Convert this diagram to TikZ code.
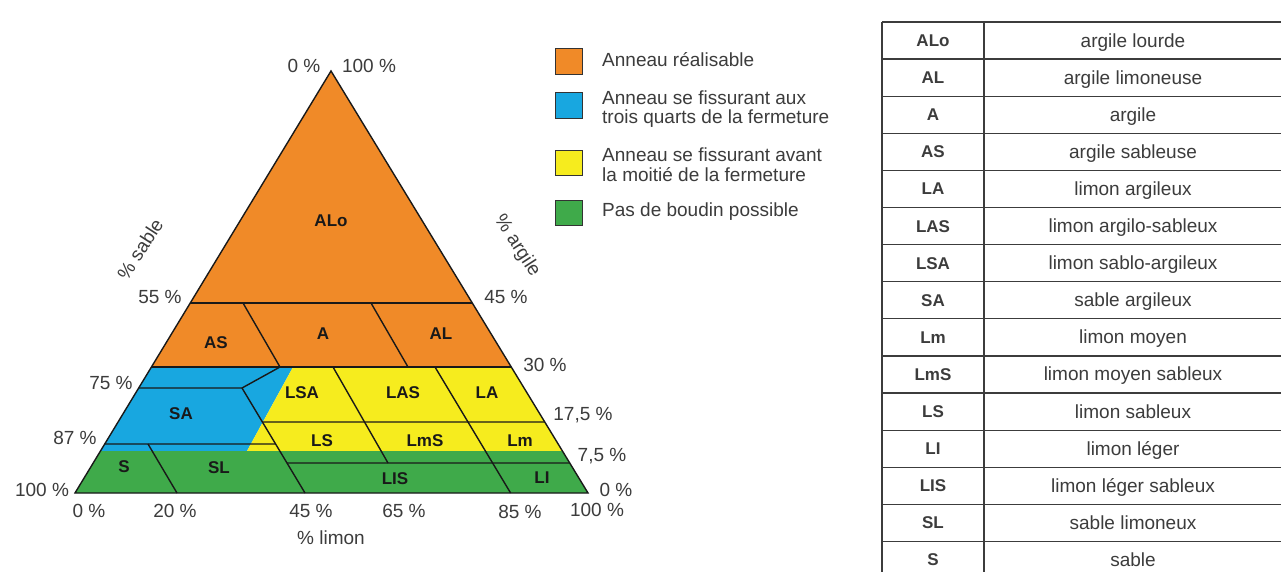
\documentclass[tikz,border=0pt]{standalone}
\usepackage{fontspec}
\setmainfont{Liberation Sans}
\usetikzlibrary{calc}
\definecolor{orng}{RGB}{240,138,40}
\definecolor{blu}{RGB}{24,167,224}
\definecolor{yel}{RGB}{246,236,30}
\definecolor{grn}{RGB}{63,170,74}
\definecolor{txtgray}{RGB}{60,60,60}
\definecolor{tabline}{RGB}{60,60,60}
\begin{document}
\begin{tikzpicture}[x=1pt,y=-1pt,
  axlbl/.style={font=\fontsize{19}{22}\selectfont, text=txtgray, inner sep=0pt},
  reglbl/.style={font=\fontsize{17}{20}\selectfont\bfseries, text=black!90, inner sep=0pt},
  bline/.style={line width=1.4pt, black!90},
  legbox/.style={draw=black!80, line width=0.9pt},
  legtxt/.style={font=\fontsize{19}{19.5}\selectfont, text=txtgray, inner sep=0pt, anchor=west, align=left},
  tline/.style={line width=1.2pt, tabline},
  tabcode/.style={font=\fontsize{17}{20}\selectfont\bfseries, text=txtgray, inner sep=0pt, anchor=base},
  tabname/.style={font=\fontsize{19}{22}\selectfont, text=txtgray, inner sep=0pt, anchor=base}]
\useasboundingbox (0,0) rectangle (1281,572);
\clip (0,0) rectangle (1281,572);
\fill[white] (0,0) rectangle (1281,572);

% triangle corners
\coordinate (A) at (75,493);
\coordinate (B) at (588,493);
\coordinate (C) at (331,71);
% edge points
\coordinate (L303) at ($(A)!0.4502!(C)$);
\coordinate (R303) at ($(B)!0.4502!(C)$);
\coordinate (L367) at ($(A)!0.2986!(C)$);
\coordinate (R367) at ($(B)!0.2986!(C)$);
\coordinate (L388) at ($(A)!0.2488!(C)$);
\coordinate (R422) at ($(B)!0.1682!(C)$);
\coordinate (L444) at ($(A)!0.1161!(C)$);
\coordinate (L451) at ($(A)!0.0995!(C)$);
\coordinate (R451) at ($(B)!0.0995!(C)$);
\coordinate (R463) at ($(B)!0.0711!(C)$);
% inner points
\coordinate (P1) at (242,388);
\coordinate (P2) at (280,367);
\coordinate (P3) at (305,493);
\coordinate (Q422) at ($(P1)!0.3238!(P3)$);
\coordinate (Q444) at ($(P1)!0.5333!(P3)$);
\coordinate (Q463) at ($(P1)!0.7143!(P3)$);
\coordinate (BY1) at (293,367);
\coordinate (BY2) at (247,451);

% colour zones
\fill[orng] (C) -- (R367) -- (L367) -- cycle;
\fill[blu] (L367) -- (BY1) -- (BY2) -- (L451) -- cycle;
\fill[yel] (BY1) -- (R367) -- (R451) -- (BY2) -- cycle;
\fill[grn] (L451) -- (R451) -- (B) -- (A) -- cycle;

% dividing lines
\draw[bline] (L303) -- (R303);
\draw[bline] (L367) -- (R367);
\draw[bline] (L388) -- (P1) -- (P2);
\draw[bline] (P1) -- (P3);
\draw[bline] (Q422) -- (R422);
\draw[bline] (L444) -- (Q444);
\draw[bline] (Q463) -- (R463);
\draw[bline] (148,444) -- (177,493);
\draw[bline] (243,303) -- (280,367);
\draw[bline] (371,303) -- (408,367);
\draw[bline] (333,367) -- (388,463);
\draw[bline] (435,367) -- (510.6,493);
\draw[bline, line join=miter] (A) -- (B) -- (C) -- cycle;

% region labels
\node[reglbl] (nALo) at (331,221) {ALo};
\node[reglbl] (nAS) at (216,343) {AS};
\node[reglbl] (nA) at (323,334) {A};
\node[reglbl] (nAL) at (441,334) {AL};
\node[reglbl] (nSA) at (181,414) {SA};
\node[reglbl] (nLSA) at (302,393) {LSA};
\node[reglbl] (nLAS) at (403,393) {LAS};
\node[reglbl] (nLA) at (487,393) {LA};
\node[reglbl] (nLS) at (322,441) {LS};
\node[reglbl] (nLmS) at (425,441) {LmS};
\node[reglbl] (nLm) at (520,441) {Lm};
\node[reglbl] (nS) at (124,467) {S};
\node[reglbl] (nSL) at (219,468) {SL};
\node[reglbl] (nLIS) at (395,479) {LIS};
\node[reglbl] (nLI) at (542,478) {LI};

% axis labels
\node[axlbl] (t0) at (304,66) {0 \%};
\node[axlbl] (t100) at (369,66) {100 \%};
\node[axlbl] (s55) at (160,297) {55 \%};
\node[axlbl] (s75) at (111,383) {75 \%};
\node[axlbl] (s87) at (75,438) {87 \%};
\node[axlbl] (s100) at (42,490) {100 \%};
\node[axlbl] (b0) at (89,511) {0 \%};
\node[axlbl] (b20) at (175,511) {20 \%};
\node[axlbl] (b45) at (311,511) {45 \%};
\node[axlbl] (b65) at (404,511) {65 \%};
\node[axlbl] (b85) at (520,512) {85 \%};
\node[axlbl] (b100) at (597,510) {100 \%};
\node[axlbl] (limon) at (331,538) {\% limon};
\node[axlbl] (r45) at (506,297) {45 \%};
\node[axlbl] (r30) at (545,365) {30 \%};
\node[axlbl] (r175) at (583,415) {17,5 \%};
\node[axlbl] (r75) at (602,456) {7,5 \%};
\node[axlbl] (r0) at (616,490) {0 \%};
\node[axlbl, rotate=57] (sable) at (140,249) {\% sable};
\node[axlbl, rotate=-57] (argile) at (517,246) {\% argile};

% legend
\draw[legbox, fill=orng] (555,48) rectangle (582,74);
\draw[legbox, fill=blu] (555,92) rectangle (582,118);
\draw[legbox, fill=yel] (555,150) rectangle (582,175);
\draw[legbox, fill=grn] (555,200) rectangle (582,225);
\node[legtxt] (leg1) at (602,60) {Anneau réalisable};
\node[legtxt] (leg2) at (602,109) {Anneau se fissurant aux\\trois quarts de la fermeture};
\node[legtxt] (leg3) at (602,164.5) {Anneau se fissurant avant\\la moitié de la fermeture};
\node[legtxt] (leg4) at (602,212) {Pas de boudin possible};

% table
\foreach \k in {0,...,15} {
  \draw[tline] (882,{22+37.1*\k}) -- (1284,{22+37.1*\k});
}
\draw[tline] (882,22) -- (882,575);
\draw[tline] (984,22) -- (984,575);
\foreach [count=\i from 0] \c/\n in {ALo/argile lourde, AL/argile limoneuse, A/argile, AS/argile sableuse, LA/limon argileux, LAS/limon argilo-sableux, LSA/limon sablo-argileux, SA/sable argileux, Lm/limon moyen, LmS/limon moyen sableux, LS/limon sableux, LI/limon léger, LIS/limon léger sableux, SL/sable limoneux, S/sable} {
  \node[tabcode] (code\i) at (933,{22+37.1*(\i+0.5)+6}) {\c};
  \node[tabname] (name\i) at (1133,{22+37.1*(\i+0.5)+6.5}) {\n};
}
\end{tikzpicture}
\end{document}
